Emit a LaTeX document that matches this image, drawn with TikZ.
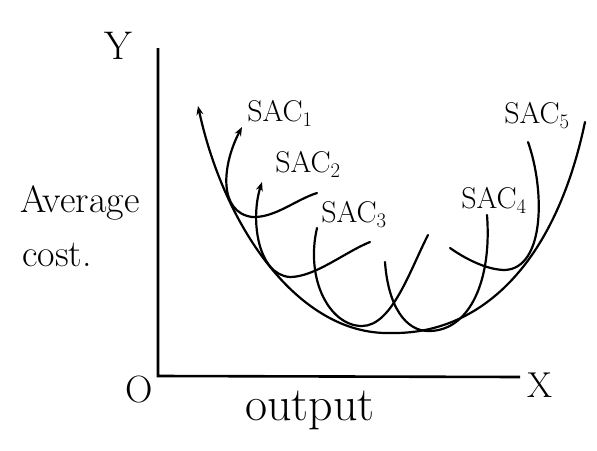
\documentclass[tikz,border=0pt]{standalone}
\usetikzlibrary{arrows.meta}
\tikzset{curve/.style={line width=2.2pt,line cap=round}, tip/.style={{Stealth[length=9pt,width=7pt]}-}, lbl/.style={font=\fontsize{30}{32}\selectfont}}
\begin{document}
\begin{tikzpicture}[x=1pt,y=-1pt,line width=2.6pt]
\useasboundingbox (0,0) rectangle (597,450);
% axes
\coordinate (top) at (158,48); \coordinate (O) at (158,376); \coordinate (right) at (520,377);
\draw (top)--(O)--(right);
\node[font=\fontsize{40}{42}\selectfont] (ylab) at (118,46) {Y}; \node[font=\fontsize{36}{38}\selectfont] (xlab) at (540,385) {X};
\node[font=\fontsize{38}{40}\selectfont] (olab) at (139,390) {O};
\node[font=\fontsize{38}{40}\selectfont] (avg) at (80,203) {Average}; \node[font=\fontsize{38}{40}\selectfont] (cost) at (57,255) {cost.};
\node[font=\fontsize{48}{50}\selectfont] (outp) at (310,410) {output};
% long run envelope
\draw[curve,tip] (198,106) .. controls (225,230) and (300,335) .. (390,333) .. controls (480,335) and (555,265) .. (585,122);
% short run curves
\draw[curve,tip] (242,127) .. controls (222,165) and (218,212) .. (252,217) .. controls (275,218) and (295,200) .. (317,193);
\draw[curve,tip] (262,182) .. controls (250,220) and (258,275) .. (290,277) .. controls (315,277) and (345,252) .. (370,242);
\draw[curve] (317,228) .. controls (305,280) and (330,326) .. (362,326) .. controls (392,326) and (410,270) .. (428,235);
\draw[curve] (385,262) .. controls (388,305) and (405,332) .. (430,331) .. controls (470,330) and (492,280) .. (487,215);
\draw[curve] (450,248) .. controls (470,262) and (490,270) .. (505,270) .. controls (545,268) and (545,190) .. (528,142);
% labels
\node[lbl] (sac1) at (280,113) {SAC$_1$}; \node[lbl] (sac2) at (308,164) {SAC$_2$};
\node[lbl] (sac3) at (354,214) {SAC$_3$}; \node[lbl] (sac4) at (494,200) {SAC$_4$};
\node[lbl] (sac5) at (537,115) {SAC$_5$};
\end{tikzpicture}
\end{document}
